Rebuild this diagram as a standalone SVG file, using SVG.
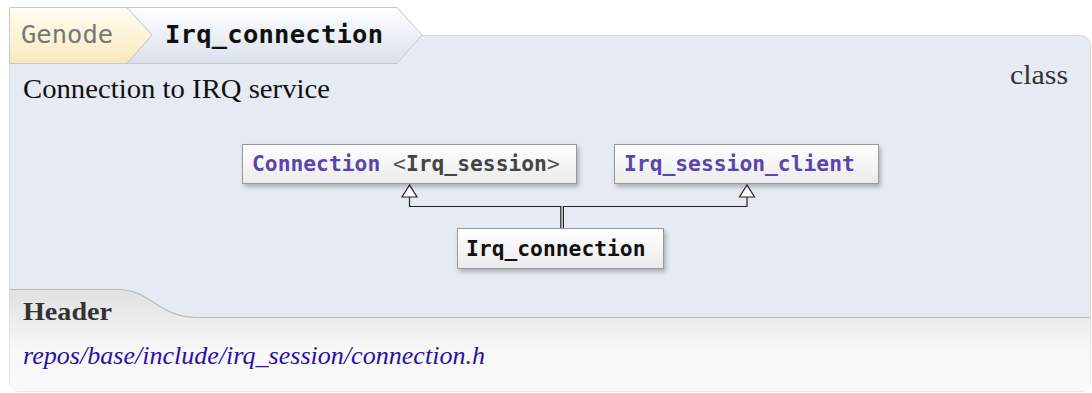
<svg xmlns="http://www.w3.org/2000/svg" width="1092" height="393" viewBox="0 0 1092 393">
<defs>
<linearGradient id="gTabY" x1="0" y1="0" x2="0" y2="1"><stop offset="0" stop-color="#fffdf2"/><stop offset="1" stop-color="#f8e9bd"/></linearGradient>
<linearGradient id="gTabB" x1="0" y1="0" x2="0" y2="1"><stop offset="0" stop-color="#ffffff"/><stop offset="1" stop-color="#d9e0ec"/></linearGradient>
<linearGradient id="gHdr" x1="0" y1="289" x2="0" y2="392" gradientUnits="userSpaceOnUse"><stop offset="0" stop-color="#e0e0e0"/><stop offset="0.6" stop-color="#f8f8f8"/><stop offset="1" stop-color="#f9f9f9"/></linearGradient>
<linearGradient id="gBox" x1="0" y1="0" x2="0" y2="1"><stop offset="0" stop-color="#ffffff"/><stop offset="1" stop-color="#ebebeb"/></linearGradient>
<filter id="sh" x="-10%" y="-20%" width="120%" height="150%"><feDropShadow dx="2" dy="3" stdDeviation="2" flood-color="#000" flood-opacity="0.25"/></filter>
</defs>
<style>
.mono{font-family:"DejaVu Sans Mono",monospace}
.serif{font-family:"Liberation Serif","DejaVu Serif",serif}
.box{fill:url(#gBox);stroke:#999;stroke-width:1;filter:url(#sh)}
.cls{font-size:21.3px;font-weight:bold}
.link{fill:#5a44ad}
.conn{fill:none;stroke:#222;stroke-width:1.2}
.tri{fill:#fff;stroke:#222;stroke-width:1.2}
</style>
<rect width="1092" height="393" fill="#ffffff"/>
<g id="panel">
<rect x="9.5" y="35.5" width="1081" height="356" rx="10" fill="#e6eaf3" stroke="#d3d7df"/>
<path d="M9.5,289.5 L118,289.5 C150,289.5 160,317.5 196,317.5 L1090.5,317.5 L1090.5,381.5 Q1090.5,391.5 1080.5,391.5 L19.5,391.5 Q9.5,391.5 9.5,381.5 Z" fill="url(#gHdr)" stroke="none"/>
<path d="M9.5,289.5 L118,289.5 C150,289.5 160,317.5 196,317.5 L1090.5,317.5" fill="none" stroke="#bdbdbd" stroke-width="1.2"/>
</g>
<g id="breadcrumb">
<path d="M9.5,7.5 L127,7.5 L152,35 L127,63.5 L9.5,63.5 Z" fill="url(#gTabY)" stroke="#c8c8c8"/>
<path d="M127,7.5 L397,7.5 L422,35 L397,63.5 L127,63.5 L152,35 Z" fill="url(#gTabB)" stroke="#c8c8c8"/>
<text class="mono" x="21" y="43" font-size="25.5" fill="#777">Genode</text>
<text class="mono" x="165" y="43" font-size="25.5" font-weight="bold" fill="#111" textLength="218">Irq_connection</text>
</g>
<text class="serif" x="23" y="98" font-size="26.5" fill="#111" textLength="307" lengthAdjust="spacingAndGlyphs">Connection to IRQ service</text>
<text class="serif" x="1010" y="84" font-size="27" fill="#333" textLength="58" lengthAdjust="spacingAndGlyphs">class</text>
<text class="serif" x="23" y="320" font-size="25" font-weight="bold" fill="#333" textLength="89" lengthAdjust="spacingAndGlyphs">Header</text>
<text class="serif" x="23" y="364" font-size="25" font-style="italic" fill="#2b10a6" textLength="462" lengthAdjust="spacingAndGlyphs">repos/base/include/irq_session/connection.h</text>
<g id="connectors">
<path class="conn" d="M560.8,228 L560.8,206.5 L409.5,206.5 L409.5,197"/>
<path class="conn" d="M563.4,228 L563.4,206.5 L747,206.5 L747,197"/>
<path class="tri" d="M409.5,185 L402,197 L417,197 Z"/>
<path class="tri" d="M747,185 L739.5,197 L754.5,197 Z"/>
</g>
<g id="node-connection">
<rect class="box" x="242.5" y="144.5" width="334" height="39"/>
<text class="mono cls" x="252" y="171"><tspan class="link">Connection</tspan><tspan fill="#555" font-weight="normal"> &lt;</tspan><tspan fill="#444">Irq_session</tspan><tspan fill="#555" font-weight="normal">&gt;</tspan></text>
</g>
<g id="node-irq-session-client">
<rect class="box" x="614.5" y="144.5" width="264" height="39"/>
<text class="mono cls link" x="624" y="171">Irq_session_client</text>
</g>
<g id="node-irq-connection">
<rect class="box" x="457.5" y="228.5" width="206" height="40"/>
<text class="mono cls" x="466" y="255.5" fill="#111">Irq_connection</text>
</g>
</svg>
